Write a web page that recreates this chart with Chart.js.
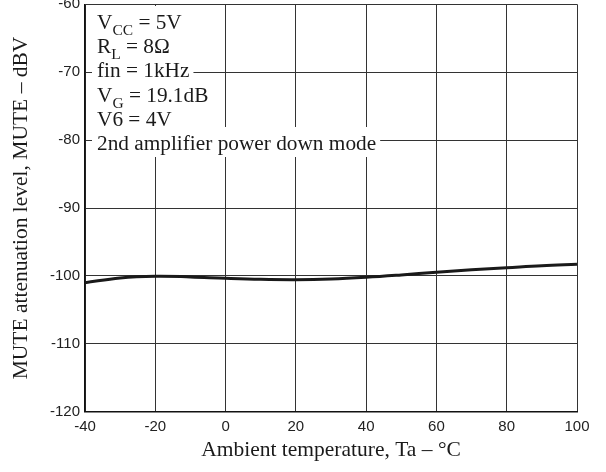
<!DOCTYPE html>
<html>
<head>
<meta charset="utf-8">
<script src="https://cdn.jsdelivr.net/npm/chart.js@4.4.0/dist/chart.umd.min.js"></script>
<style>
  body { margin: 0; background: #fff; }
  #contenedor { width: 606px; height: 472px; }
</style>
</head>
<body>
<div id="contenedor"><canvas id="myChart"></canvas></div>
<script>
// temperatura ambiente (°C)
const temperaturas = [-40, -30, -20, -10, 0, 10, 20, 30, 40, 50, 60, 70, 80, 90, 100]
// nivel de atenuacion MUTE (dBV)
const atenuacion = [-101.0, -100.3, -100.05, -100.15, -100.35, -100.5, -100.55, -100.45, -100.2, -99.85, -99.45, -99.1, -98.8, -98.5, -98.3]
// etiquetas de los ejes
const ticksX = [-40, -20, 0, 20, 40, 60, 80, 100]
const ticksY = [-120, -110, -100, -90, -80, -70, -60]
// condiciones de medida: [texto, subindice, resto]
const condiciones = [
    ["V", "CC", " = 5V"],
    ["R", "L", " = 8\u03A9"],
    ["fin = 1kHz", "", ""],
    ["V", "G", " = 19.1dB"],
    ["V6 = 4V", "", ""],
    ["2nd amplifier power down mode", "", ""]
]

const serif = "'Liberation Serif', 'Times New Roman', serif"
const sans = "'Liberation Sans', Arial, sans-serif"

// dibuja el cuadro de condiciones encima de la rejilla
const pluginCondiciones = {
    id: "condiciones",
    beforeDatasetsDraw(chart) {
        const ctx = chart.ctx
        const x0 = chart.chartArea.left + 12
        ctx.save()
        ctx.textBaseline = "alphabetic"
        condiciones.forEach((linea, i) => {
            const base = 29 + i * 24.2
            ctx.font = "21.3px " + serif
            const w1 = ctx.measureText(linea[0]).width
            const w3 = ctx.measureText(linea[2]).width
            ctx.font = "15.5px " + serif
            const w2 = ctx.measureText(linea[1]).width
            ctx.fillStyle = "#fff"
            ctx.fillRect(x0 - 5, base - 23, w1 + w2 + w3 + 9, 30)
        })
        condiciones.forEach((linea, i) => {
            const base = 29 + i * 24.2
            let x = x0
            ctx.fillStyle = "#1a1a1a"
            ctx.font = "21.3px " + serif
            ctx.fillText(linea[0], x, base)
            x += ctx.measureText(linea[0]).width
            ctx.font = "15.5px " + serif
            ctx.fillText(linea[1], x, base + 6)
            x += ctx.measureText(linea[1]).width
            ctx.font = "21.3px " + serif
            ctx.fillText(linea[2], x, base)
        })
        ctx.restore()
    }
}

const grafica = document.getElementById("myChart").getContext("2d")

const myChart = new Chart(grafica, {
    type: "line",
    data: {
        datasets: [
            {
                data: temperaturas.map((t, i) => ({ x: t, y: atenuacion[i] })),
                borderColor: "#1a1a1a",
                borderWidth: 3,
                pointRadius: 0,
                tension: 0.4,
                fill: false
            }
        ]
    },
    options: {
        responsive: true,
        maintainAspectRatio: false,
        animation: false,
        layout: {
            padding: { top: 4.3, right: 29, bottom: 0, left: 0 }
        },
        plugins: {
            legend: { display: false },
            tooltip: { enabled: false }
        },
        scales: {
            x: {
                type: "linear",
                min: -40,
                max: 100,
                afterBuildTicks: scale => { scale.ticks = ticksX.map(v => ({ value: v })) },
                afterFit: scale => {
                    scale.height = 60.3
                    scale.paddingLeft = 0
                    scale.paddingRight = 0
                },
                grid: { color: "#333", lineWidth: 1, drawTicks: false },
                border: { color: "#111", width: 1.5 },
                ticks: {
                    padding: 6,
                    color: "#222",
                    maxRotation: 0,
                    font: { family: sans, size: 15 }
                },
                title: {
                    display: true,
                    text: "Ambient temperature, Ta \u2013 \u00B0C",
                    color: "#1a1a1a",
                    font: { family: serif, size: 21.5 },
                    padding: { top: 0, bottom: 9 }
                }
            },
            y: {
                min: -120,
                max: -60,
                afterBuildTicks: scale => { scale.ticks = ticksY.map(v => ({ value: v })) },
                afterFit: scale => {
                    scale.width = 85
                    scale.paddingTop = 0
                    scale.paddingBottom = 0
                },
                grid: { color: "#333", lineWidth: 1, drawTicks: false },
                border: { color: "#111", width: 1.5 },
                ticks: {
                    padding: 5,
                    color: "#222",
                    font: { family: sans, size: 15 }
                },
                title: {
                    display: true,
                    text: "MUTE attenuation level, MUTE \u2013 dBV",
                    color: "#1a1a1a",
                    font: { family: serif, size: 21.5 },
                    padding: { top: 8.5, bottom: 0 }
                }
            }
        }
    },
    plugins: [pluginCondiciones]
})
</script>
</body>
</html>
